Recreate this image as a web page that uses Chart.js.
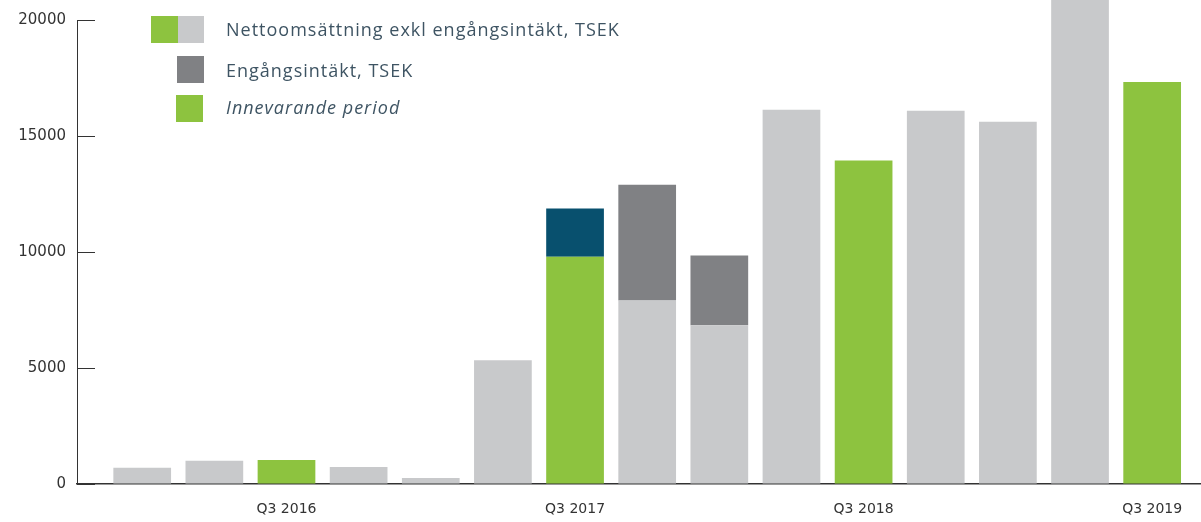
<!DOCTYPE html>
<html>
<head>
<meta charset="utf-8">
<script src="https://cdn.jsdelivr.net/npm/chart.js@4.4.1/dist/chart.umd.min.js"></script>
<style>
  html, body { margin: 0; padding: 0; background: #ffffff; }
  #wrap { position: relative; width: 1201px; height: 522px; }
</style>
</head>
<body>
<div id="wrap"><canvas id="c" width="1201" height="522"></canvas></div>
<script>
// ---- data ----
const quarters = ['Q1 2016','Q2 2016','Q3 2016','Q4 2016','Q1 2017','Q2 2017','Q3 2017','Q4 2017',
                  'Q1 2018','Q2 2018','Q3 2018','Q4 2018','Q1 2019','Q2 2019','Q3 2019'];
// Net sales excluding one-off income, TSEK
const netSalesExcl = [700, 1000, 1030, 730, 260, 5330, 9800, 7910, 6840, 16130, 13940, 16090, 15610, 21500, 17330];
// One-off income, TSEK
const oneOffIncome = [0, 0, 0, 0, 0, 0, 2070, 4990, 3010, 0, 0, 0, 0, 0, 0];
// Current period (Q3 of each year)
const currentPeriod = [false, false, true, false, false, false, true, false, false, false, true, false, false, false, true];
const yTicks = [0, 5000, 10000, 15000, 20000];
const legendLabels = ['Nettoomsättning exkl engångsintäkt, TSEK', 'Engångsintäkt, TSEK', 'Innevarande period'];

const GREEN = '#8dc33f', LIGHT = '#c8c9cb', DARK = '#808184', BLUE = '#08506e';
const TEXT = '#333333', LEGEND_TEXT = '#3e5463';

const innerTicks = {
  id: 'innerTicks',
  afterDraw(chart) {
    const y = chart.scales.y, ctx = chart.ctx;
    ctx.save();
    ctx.strokeStyle = '#333';
    ctx.lineWidth = 1;
    y.ticks.forEach((t, i) => {
      const py = Math.round(y.getPixelForTick(i)) + 0.5;
      ctx.beginPath();
      ctx.moveTo(chart.chartArea.left, py);
      ctx.lineTo(chart.chartArea.left + 18, py);
      ctx.stroke();
    });
    ctx.restore();
  }
};

const customLegend = {
  id: 'customLegend',
  afterDraw(chart) {
    const ctx = chart.ctx;
    ctx.save();
    ctx.fillStyle = GREEN; ctx.fillRect(151, 16, 27, 27);
    ctx.fillStyle = LIGHT; ctx.fillRect(178, 16, 26, 27);
    ctx.fillStyle = DARK; ctx.fillRect(177, 56, 27, 27);
    ctx.fillStyle = GREEN; ctx.fillRect(176, 95, 27, 27);
    ctx.fillStyle = LEGEND_TEXT;
    ctx.textBaseline = 'middle';
    ctx.textAlign = 'left';
    if ('letterSpacing' in ctx) ctx.letterSpacing = '1px';
    ctx.font = '18px "Open Sans"';
    ctx.fillText(legendLabels[0], 226, 31);
    ctx.fillText(legendLabels[1], 226, 72);
    ctx.font = 'italic 18px "Open Sans"';
    ctx.fillText(legendLabels[2], 226, 109);
    ctx.restore();
  }
};

const xs = quarters.map((q, i) => i);

new Chart(document.getElementById('c'), {
  type: 'bar',
  data: {
    datasets: [
      {
        label: legendLabels[0],
        data: xs.map(i => ({ x: i, y: netSalesExcl[i] })),
        backgroundColor: currentPeriod.map(c => c ? GREEN : LIGHT),
        barPercentage: 0.8, categoryPercentage: 1, clip: false
      },
      {
        label: legendLabels[1],
        data: xs.map(i => ({ x: i, y: oneOffIncome[i] })),
        backgroundColor: currentPeriod.map(c => c ? BLUE : DARK),
        barPercentage: 0.8, categoryPercentage: 1, clip: false
      }
    ]
  },
  options: {
    responsive: false,
    animation: false,
    layout: { padding: { top: 19, right: 0, left: 0, bottom: 0 } },
    plugins: { legend: { display: false }, tooltip: { enabled: false } },
    scales: {
      x: {
        type: 'linear',
        stacked: true,
        offset: false,
        min: -0.904, max: 14.677,
        afterBuildTicks(scale) {
          scale.ticks = xs.filter(i => currentPeriod[i]).map(i => ({ value: i }));
        },
        afterFit(scale) { scale.height = 38; },
        grid: { display: true, drawOnChartArea: false, drawTicks: false },
        border: { display: true, color: '#333', width: 1.5 },
        ticks: {
          autoSkip: false, maxRotation: 0, padding: 17, color: TEXT,
          font: { family: 'DejaVu Sans', size: 14 },
          callback: v => quarters[v] || ''
        }
      },
      y: {
        stacked: true,
        min: 0, max: 20000,
        afterBuildTicks(scale) { scale.ticks = yTicks.map(v => ({ value: v })); },
        afterFit(scale) { scale.width = 77; },
        grid: { display: true, drawOnChartArea: false, drawTicks: false },
        border: { display: true, color: '#333', width: 1 },
        ticks: {
          padding: 11, color: TEXT,
          font: { family: 'DejaVu Sans', size: 15 },
          callback: v => String(v)
        }
      }
    }
  },
  plugins: [innerTicks, customLegend]
});
</script>
</body>
</html>
